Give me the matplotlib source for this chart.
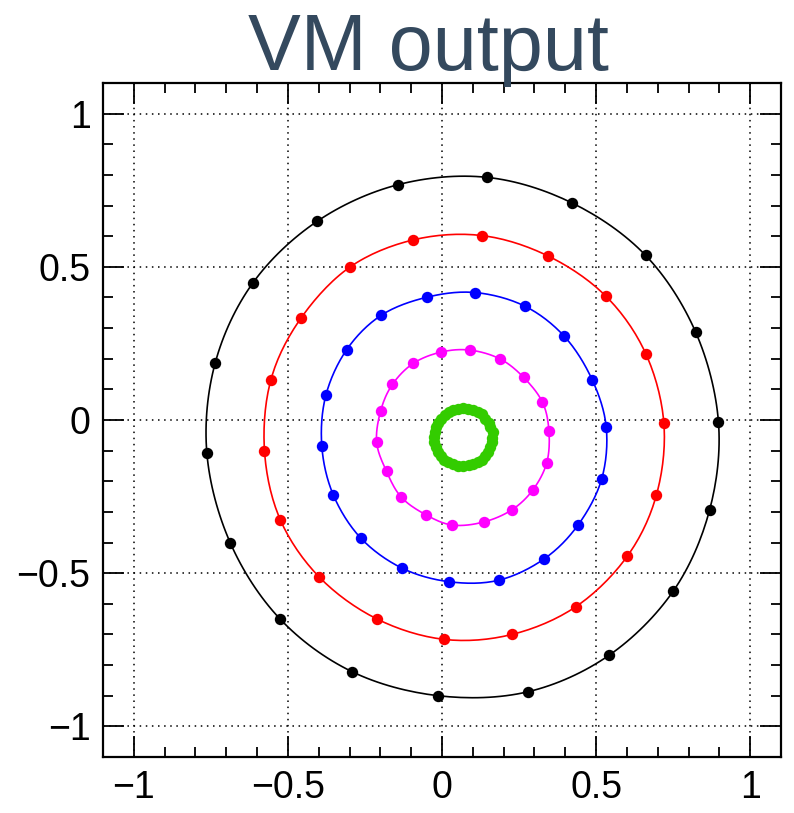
import numpy as np
import matplotlib
matplotlib.use("Agg")
import matplotlib.pyplot as plt
from matplotlib.ticker import MultipleLocator

plt.rcParams['font.family'] = ['Liberation Sans', 'DejaVu Sans']

# Ring samples (x, y), listed in order around each ring
black_x = [0.146, 0.423, 0.661, 0.823, 0.897, 0.868, 0.750, 0.542, 0.279,
           -0.012, -0.293, -0.526, -0.687, -0.763, -0.736, -0.614, -0.406, -0.143]
black_y = [0.792, 0.708, 0.537, 0.287, -0.006, -0.295, -0.559, -0.768, -0.887,
           -0.900, -0.821, -0.649, -0.401, -0.108, 0.186, 0.447, 0.648, 0.768]

red_x = [0.130, 0.345, 0.532, 0.661, 0.720, 0.696, 0.601, 0.435, 0.227,
         0.006, -0.212, -0.398, -0.525, -0.576, -0.555, -0.458, -0.299, -0.093]
red_y = [0.602, 0.535, 0.404, 0.217, -0.011, -0.244, -0.445, -0.609, -0.700,
         -0.716, -0.649, -0.513, -0.325, -0.101, 0.132, 0.332, 0.499, 0.588]

blue_x = [0.108, 0.268, 0.397, 0.487, 0.533, 0.518, 0.442, 0.332, 0.184,
          0.024, -0.131, -0.264, -0.353, -0.390, -0.377, -0.309, -0.197, -0.048]
blue_y = [0.416, 0.372, 0.273, 0.132, -0.024, -0.193, -0.342, -0.453, -0.523,
          -0.528, -0.483, -0.385, -0.244, -0.085, 0.080, 0.230, 0.342, 0.401]

magenta_x = [-0.002, 0.092, 0.189, 0.265, 0.326, 0.347, 0.340, 0.295, 0.227,
             0.135, 0.034, -0.053, -0.132, -0.180, -0.212, -0.199, -0.161, -0.093]
magenta_y = [0.222, 0.228, 0.199, 0.139, 0.058, -0.036, -0.139, -0.228, -0.293,
             -0.333, -0.343, -0.309, -0.252, -0.168, -0.073, 0.030, 0.116, 0.185]

green_x = [0.163, 0.164, 0.157, 0.151, 0.141, 0.131, 0.116, 0.102, 0.085,
           0.069, 0.052, 0.037, 0.022, 0.009, -0.003, -0.013, -0.019, -0.024,
           -0.026, -0.025, -0.020, -0.012, -0.003, 0.008, 0.021, 0.037, 0.053,
           0.069, 0.086, 0.101, 0.117, 0.130, 0.141, 0.150, 0.157, 0.163]
green_y = [-0.058, -0.039, -0.024, -0.009, 0.004, 0.018, 0.026, 0.033, 0.037,
           0.038, 0.036, 0.033, 0.025, 0.016, 0.004, -0.009, -0.023, -0.040,
           -0.055, -0.072, -0.088, -0.103, -0.116, -0.129, -0.138, -0.144, -0.149,
           -0.151, -0.148, -0.144, -0.137, -0.129, -0.117, -0.103, -0.088, -0.073]

rings = [
    (black_x, black_y, '#000000'),
    (red_x, red_y, '#ff0000'),
    (blue_x, blue_y, '#0000ff'),
    (magenta_x, magenta_y, '#ff00ff'),
    (green_x, green_y, '#33cc00'),
]

title = "VM output"
major_ticks = [-1, -0.5, 0, 0.5, 1]
tick_labels = ["\u22121", "\u22120.5", "0", "0.5", "1"]


def closed_smooth(x, y, n=16):
    """Closed Catmull-Rom curve through the given points."""
    p = np.column_stack([x, y])
    m = len(p)
    out = []
    t = np.linspace(0, 1, n, endpoint=False)[:, None]
    for i in range(m):
        p0, p1, p2, p3 = p[(i - 1) % m], p[i], p[(i + 1) % m], p[(i + 2) % m]
        seg = 0.5 * ((2 * p1) + (-p0 + p2) * t
                     + (2 * p0 - 5 * p1 + 4 * p2 - p3) * t ** 2
                     + (-p0 + 3 * p1 - 3 * p2 + p3) * t ** 3)
        out.append(seg)
    out.append(p[:1])
    c = np.vstack(out)
    return c[:, 0], c[:, 1]


fig = plt.figure(figsize=(7.94, 8.13), dpi=100)
ax = fig.add_axes([103 / 794, 56 / 813, 678 / 794, 674 / 813])
ax.set_xlim(-1.1, 1.1)
ax.set_ylim(-1.1, 1.1)

ax.set_xticks(major_ticks)
ax.set_xticklabels(tick_labels)
ax.set_yticks(major_ticks)
ax.set_yticklabels(tick_labels)
ax.xaxis.set_minor_locator(MultipleLocator(0.1))
ax.yaxis.set_minor_locator(MultipleLocator(0.1))
ax.tick_params(which='both', direction='in', top=True, right=True,
               width=1.3, color='black')
ax.tick_params(which='major', length=15, labelsize=27, pad=9)
ax.tick_params(which='minor', length=7.5)
for s in ax.spines.values():
    s.set_linewidth(1.6)

ax.grid(True, which='major', color='black', linewidth=1.1,
        linestyle=(0, (1, 3)))
ax.set_axisbelow(True)

for xs, ys, col in rings:
    cx, cy = closed_smooth(xs, ys)
    ax.plot(cx, cy, color=col, linewidth=1.2, zorder=3)
    ax.plot(xs, ys, linestyle='none', marker='o', markersize=8.2,
            color=col, markeredgewidth=0, zorder=4)

fig.text(428 / 794, (813 - 70) / 813, title, ha='center', va='baseline',
         fontsize=57, color='#34495e')

fig.savefig("out.png", dpi=100)
